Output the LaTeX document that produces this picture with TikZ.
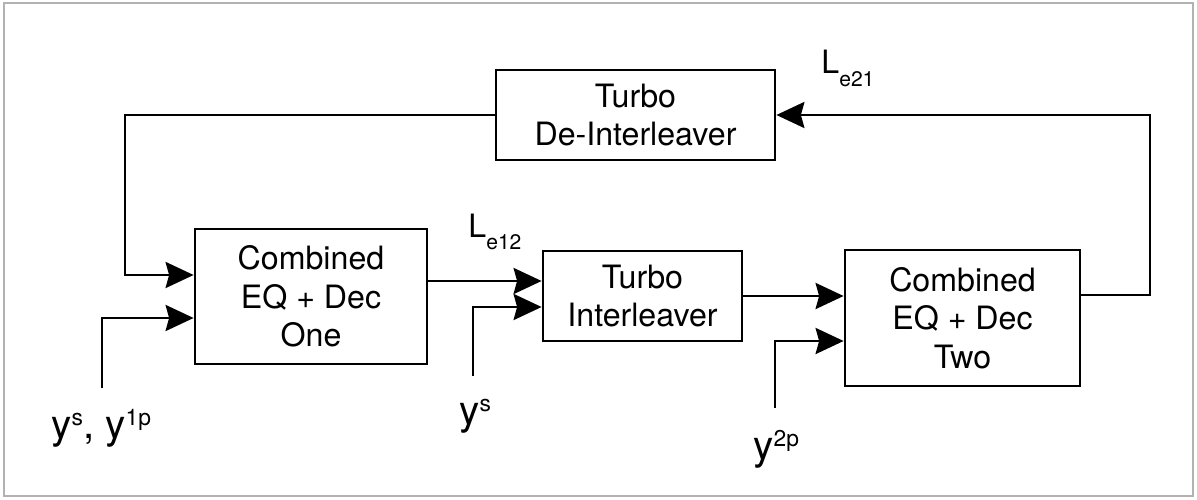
\documentclass[tikz,border=0pt]{standalone}
\usepackage{fontspec}
\setmainfont{TeX Gyre Heros}
\usetikzlibrary{arrows.meta}
\newcommand{\supscr}[1]{\raisebox{7pt}{\fontsize{13}{13}\selectfont #1}}
\newcommand{\subscr}[1]{\raisebox{-7pt}{\fontsize{12}{12}\selectfont #1}}
\tikzset{
	blk/.style={draw, line width=1.6pt, align=center, inner sep=0pt, font=\fontsize{18.3}{21.9}\selectfont},
	lbl/.style={inner sep=0pt, anchor=base west, font=\fontsize{18.3}{21.9}\selectfont},
	inlbl/.style={inner sep=0pt, anchor=base west, font=\fontsize{23}{27}\selectfont},
}
\begin{document}
\begin{tikzpicture}[x=0.02cm, y=-0.02cm, line width=1.6pt, line join=miter, >={Stealth[length=0.56cm,width=0.52cm,inset=0.07cm]}]
	\useasboundingbox (0,0) rectangle (1197,500);
	\draw[gray!60, line width=1pt] (4,3) rectangle (1193,496);
	% blocks
	\node[blk, minimum width=4.64cm, minimum height=2.7cm] (one) at (311,296.5) {Combined\\EQ + Dec\\One};
	\node[blk, minimum width=3.98cm, minimum height=1.8cm] (inter) at (642.5,296) {Turbo\\Interleaver};
	\node[blk, minimum width=4.7cm, minimum height=2.72cm] (two) at (962.5,318) {Combined\\EQ + Dec\\Two};
	\node[blk, minimum width=5.58cm, minimum height=1.8cm] (deint) at (635.5,115) {Turbo\\De-Interleaver};
	% bends and free ends
	\coordinate (fbl) at (125,275);
	\coordinate (fbr) at (1150,295);
	\coordinate (in1) at (102,388);
	\coordinate (in2) at (473,376);
	\coordinate (in3) at (775,408);
	% connectors
	\draw[->] (deint.west) -| (fbl) -- (fbl -| one.west);
	\draw[->] (in1) |- (one.west |- 0,318);
	\draw[->] (one.east |- 0,281) -- (inter.west |- 0,281);
	\draw[->] (in2) |- (inter.west |- 0,307);
	\draw[->] (inter.east) -- (inter.east -| two.west);
	\draw[->] (in3) |- (two.west |- 0,341);
	\draw[->] (two.east |- fbr) -- (fbr) |- (deint.east);
	% labels
	\node[inlbl] (ys1p) at (50,438) {y\supscr{s}, y\supscr{1p}};
	\node[inlbl] (ys) at (458,424) {y\supscr{s}};
	\node[inlbl] (y2p) at (752,459) {y\supscr{2p}};
	\node[lbl] (le12) at (467,237) {L\subscr{e12}};
	\node[lbl] (le21) at (820,74) {L\subscr{e21}};
\end{tikzpicture}
\end{document}
